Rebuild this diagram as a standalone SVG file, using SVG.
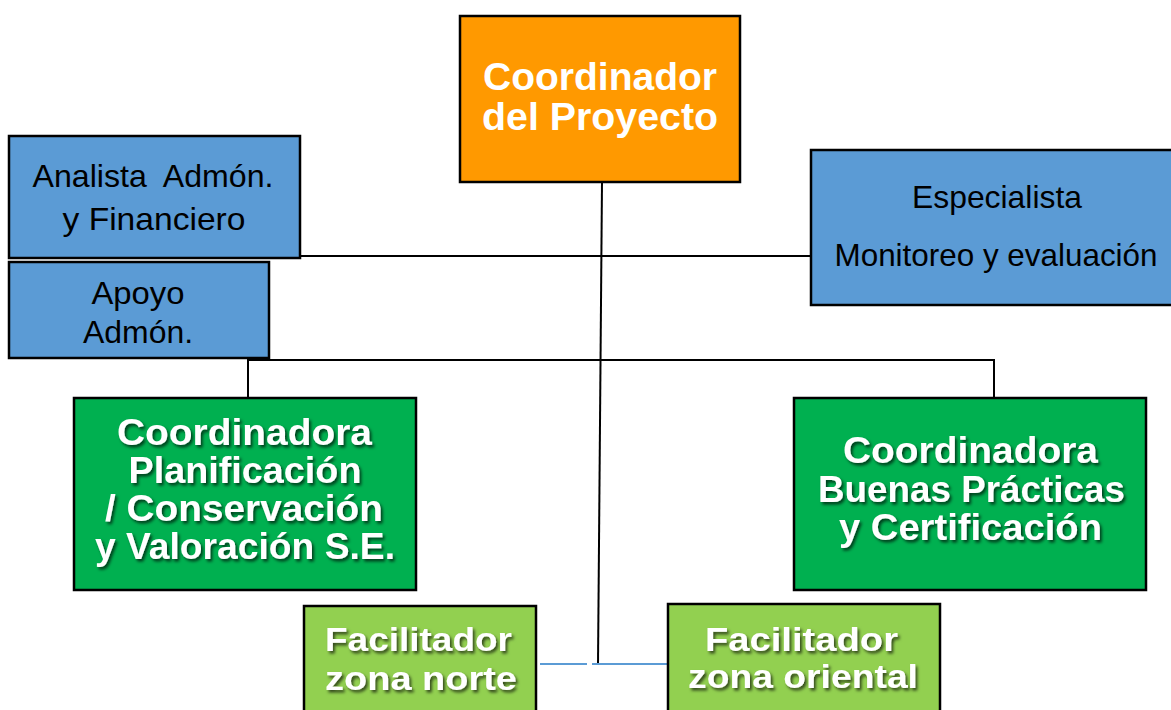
<svg xmlns="http://www.w3.org/2000/svg" width="1171" height="710" viewBox="0 0 1171 710">
<defs>
<filter id="sh" x="-10%" y="-10%" width="130%" height="140%">
<feDropShadow dx="2" dy="2.5" stdDeviation="1.5" flood-color="#000" flood-opacity="0.65"/>
</filter>
<style>
.box{stroke:#000;stroke-width:2.5}
.org{fill:#FF9900}
.blue{fill:#5B9BD5}
.green{fill:#00B050}
.lgreen{fill:#92D050}
.t{font-family:"Liberation Sans",Arial,sans-serif;text-anchor:middle}
.reg{fill:#000;font-size:31.5px}
.wb{fill:#fff;font-weight:bold}
.big{font-size:39px}
.gr{font-size:36.5px;filter:url(#sh)}
.fa{font-size:33.5px;filter:url(#sh)}
.ln{stroke:#000;stroke-width:2;fill:none}
.bl{stroke:#5B9BD5;stroke-width:2;fill:none}
</style>
</defs>
<rect width="1171" height="710" fill="#fff"/>
<g id="connectors">
<line class="ln" x1="267" y1="256" x2="811" y2="256"/>
<polyline class="ln" points="248,398 248,360 994,360 994,398"/>
<line class="ln" x1="602" y1="182" x2="598" y2="664"/>
<line class="bl" x1="540" y1="664" x2="587" y2="664"/>
<line class="bl" x1="592" y1="664" x2="668" y2="664"/>
</g>
<g id="coordinador">
<rect class="box org" x="460" y="16" width="280" height="166"/>
<text class="t wb big" x="600" y="90" textLength="234" lengthAdjust="spacingAndGlyphs">Coordinador</text>
<text class="t wb big" x="600" y="130" textLength="236" lengthAdjust="spacingAndGlyphs">del Proyecto</text>
</g>
<g id="analista">
<rect class="box blue" x="9" y="136" width="291" height="122"/>
<text class="t reg" x="153" y="187" textLength="241" lengthAdjust="spacingAndGlyphs" xml:space="preserve">Analista  Admón.</text>
<text class="t reg" x="154" y="230" textLength="183" lengthAdjust="spacingAndGlyphs">y Financiero</text>
</g>
<g id="apoyo">
<rect class="box blue" x="9" y="262" width="260" height="96"/>
<text class="t reg" x="138" y="304" textLength="93" lengthAdjust="spacingAndGlyphs">Apoyo</text>
<text class="t reg" x="138" y="343" textLength="110" lengthAdjust="spacingAndGlyphs">Admón.</text>
</g>
<g id="especialista">
<rect class="box blue" x="811" y="150" width="370" height="155"/>
<text class="t reg" x="997" y="208" textLength="170" lengthAdjust="spacingAndGlyphs">Especialista</text>
<text class="t reg" x="996" y="266" textLength="323" lengthAdjust="spacingAndGlyphs">Monitoreo y evaluación</text>
</g>
<g id="coord-planificacion">
<rect class="box green" x="74" y="398" width="342" height="192"/>
<text class="t wb gr" x="244.5" y="445" textLength="255" lengthAdjust="spacingAndGlyphs">Coordinadora</text>
<text class="t wb gr" x="245" y="483" textLength="233" lengthAdjust="spacingAndGlyphs">Planificación</text>
<text class="t wb gr" x="244" y="521" textLength="278" lengthAdjust="spacingAndGlyphs">/ Conservación</text>
<text class="t wb gr" x="245" y="559" textLength="300" lengthAdjust="spacingAndGlyphs">y Valoración S.E.</text>
</g>
<g id="coord-buenas-practicas">
<rect class="box green" x="794" y="398" width="352" height="192"/>
<text class="t wb gr" x="970.5" y="463" textLength="255" lengthAdjust="spacingAndGlyphs">Coordinadora</text>
<text class="t wb gr" x="971.5" y="502" textLength="307" lengthAdjust="spacingAndGlyphs">Buenas Prácticas</text>
<text class="t wb gr" x="970.5" y="540" textLength="263" lengthAdjust="spacingAndGlyphs">y Certificación</text>
</g>
<g id="facilitador-norte">
<rect class="box lgreen" x="304" y="606" width="232" height="120"/>
<text class="t wb fa" x="418.5" y="651" textLength="187" lengthAdjust="spacingAndGlyphs">Facilitador</text>
<text class="t wb fa" x="421" y="690" textLength="192" lengthAdjust="spacingAndGlyphs">zona norte</text>
</g>
<g id="facilitador-oriental">
<rect class="box lgreen" x="668" y="604" width="272" height="120"/>
<text class="t wb fa" x="801.5" y="651" textLength="193" lengthAdjust="spacingAndGlyphs">Facilitador</text>
<text class="t wb fa" x="803" y="688" textLength="230" lengthAdjust="spacingAndGlyphs">zona oriental</text>
</g>
</svg>
